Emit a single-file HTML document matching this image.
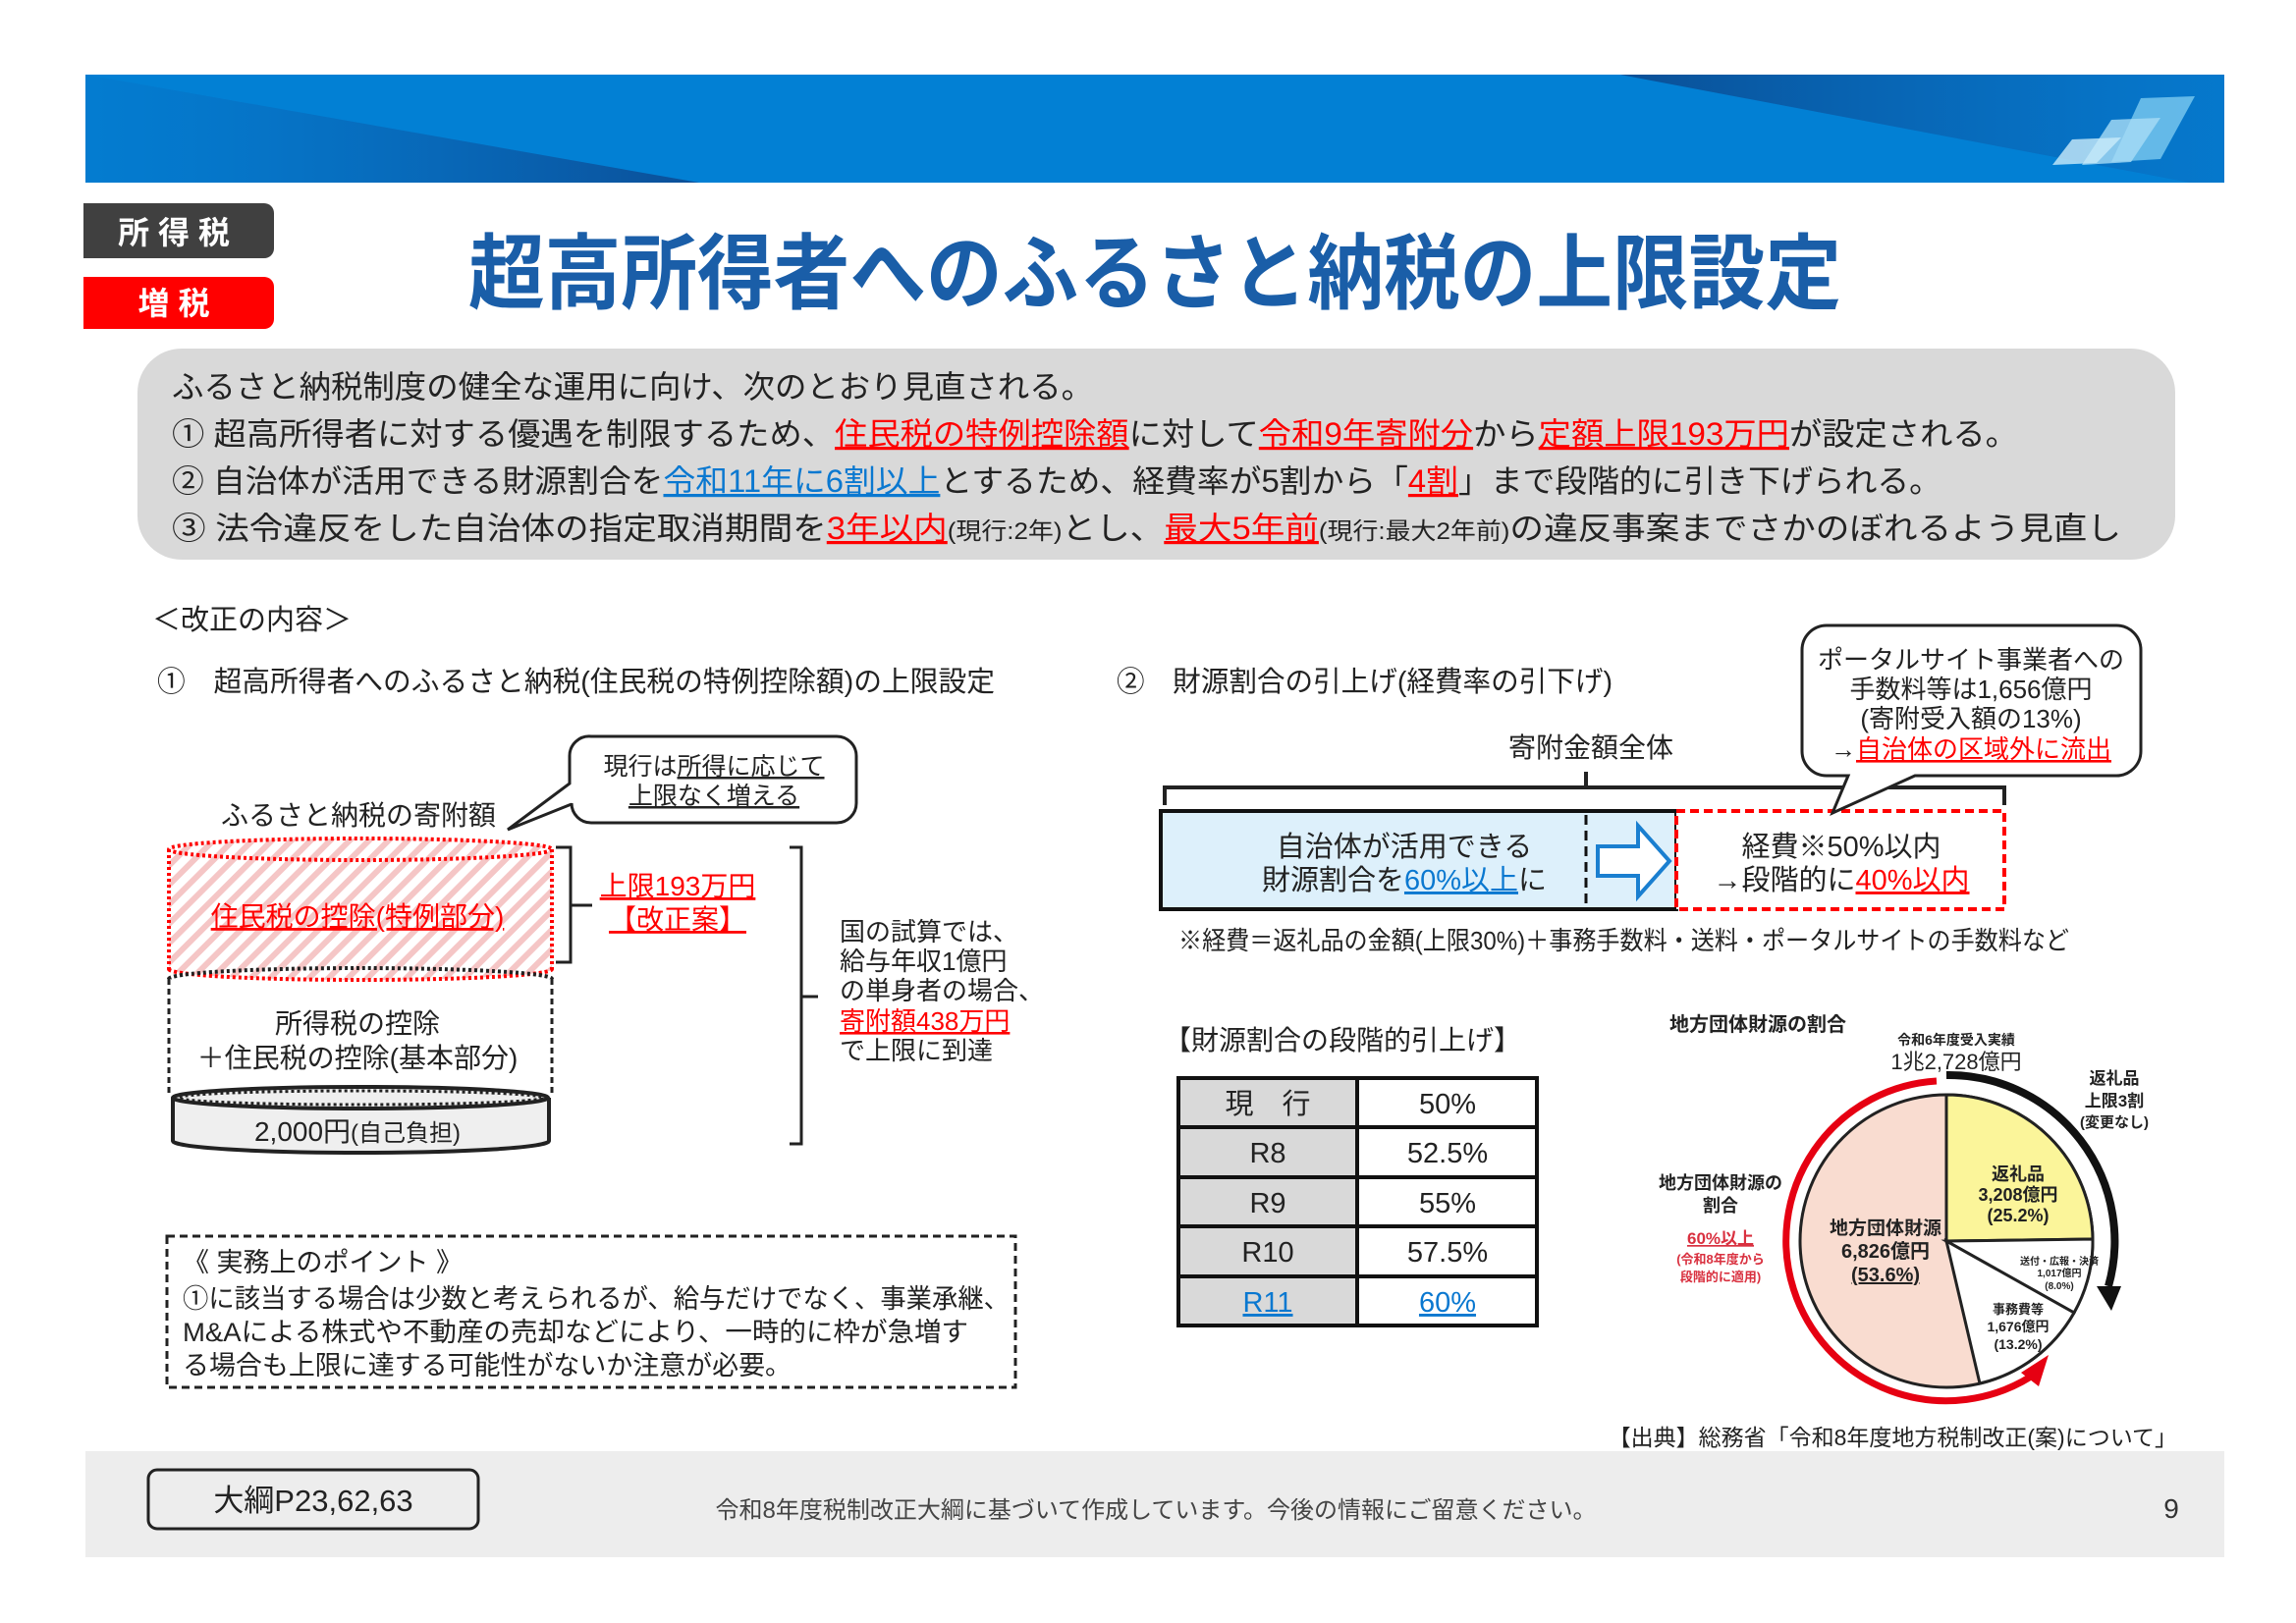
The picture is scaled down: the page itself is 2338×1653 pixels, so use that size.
<!DOCTYPE html>
<html><head><meta charset="utf-8"><style>
html,body{margin:0;padding:0;background:#fff;}
svg{display:block;}
text{font-family:"Liberation Sans","Noto Sans CJK JP",sans-serif;}
</style></head><body>
<svg width="2338" height="1653" viewBox="0 0 2338 1653" xmlns="http://www.w3.org/2000/svg">
<defs>
<linearGradient id="dl" x1="0" y1="0" x2="1" y2="0"><stop offset="0" stop-color="#0a6cc0" stop-opacity="0.2"/><stop offset="1" stop-color="#0b4f98"/></linearGradient>
<linearGradient id="dr" x1="0" y1="0" x2="1" y2="0"><stop offset="0" stop-color="#0a4f96"/><stop offset="1" stop-color="#0a6cc0" stop-opacity="0.4"/></linearGradient>
<pattern id="hatch" width="14" height="14" patternUnits="userSpaceOnUse" patternTransform="rotate(45)"><rect width="14" height="14" fill="#fff"/><rect width="6" height="14" fill="#f5c6c6"/></pattern>
</defs>
<!-- banner -->
<rect x="87" y="76" width="2178" height="110" fill="#0280d4"/>
<polygon points="87,76 712,186 87,186" fill="url(#dl)"/>
<polygon points="1650,76 2265,76 2265,186 2230,186" fill="url(#dr)"/>
<polygon points="2180,100 2235,98 2200,162 2150,165" fill="#7ccaf0" opacity="0.8"/>
<polygon points="2150,122 2200,120 2170,165 2120,168" fill="#a8dcf5" opacity="0.8"/>
<polygon points="2110,142 2160,140 2135,166 2090,168" fill="#c9ebfa" opacity="0.8"/>
<!-- tags -->
<path d="M85,207 H269 a10,10 0 0 1 10,10 V253 a10,10 0 0 1 -10,10 H85 Z" fill="#404040"/>
<text x="177" y="248" font-size="32" fill="#fff" text-anchor="middle" font-weight="bold">所 得 税</text>
<path d="M85,282 H269 a10,10 0 0 1 10,10 V325 a10,10 0 0 1 -10,10 H85 Z" fill="#ff0000"/>
<text x="177" y="320" font-size="32" fill="#fff" text-anchor="middle" font-weight="bold">増 税</text>
<!-- title -->
<text x="477" y="308" font-size="84" fill="#1a5ea8" font-weight="bold" textLength="1398" lengthAdjust="spacingAndGlyphs">超高所得者へのふるさと納税の上限設定</text>
<!-- gray box -->
<rect x="140" y="355" width="2075" height="215" rx="45" fill="#d9d9d9"/>
<g font-size="32" fill="#222">
<text x="175" y="405" textLength="938" lengthAdjust="spacingAndGlyphs">ふるさと納税制度の健全な運用に向け、次のとおり見直される。</text>
<text x="175" y="453" textLength="1880" lengthAdjust="spacingAndGlyphs">① 超高所得者に対する優遇を制限するため、<tspan fill="#f00" text-decoration="underline">住民税の特例控除額</tspan>に対して<tspan fill="#f00" text-decoration="underline">令和9年寄附分</tspan>から<tspan fill="#f00" text-decoration="underline">定額上限193万円</tspan>が設定される。</text>
<text x="175" y="501" textLength="1802" lengthAdjust="spacingAndGlyphs">② 自治体が活用できる財源割合を<tspan fill="#0a78d0" text-decoration="underline">令和11年に6割以上</tspan>とするため、経費率が5割から「<tspan fill="#f00" text-decoration="underline">4割</tspan>」まで段階的に引き下げられる。</text>
<text x="175" y="549" textLength="1985" lengthAdjust="spacingAndGlyphs">③ 法令違反をした自治体の指定取消期間を<tspan fill="#f00" text-decoration="underline">3年以内</tspan><tspan font-size="24">(現行:2年)</tspan>とし、<tspan fill="#f00" text-decoration="underline">最大5年前</tspan><tspan font-size="24">(現行:最大2年前)</tspan>の違反事案までさかのぼれるよう見直し</text>
</g>
<!-- section headers -->
<g font-size="29" fill="#222">
<text x="155" y="641">＜改正の内容＞</text>
<text x="160" y="704" textLength="853" lengthAdjust="spacingAndGlyphs">①　超高所得者へのふるさと納税(住民税の特例控除額)の上限設定</text>
<text x="1137" y="704" textLength="505" lengthAdjust="spacingAndGlyphs">②　財源割合の引上げ(経費率の引下げ)</text>
</g>
<!-- left diagram -->
<path d="M602,750 H852 a20,20 0 0 1 20,20 V818 a20,20 0 0 1 -20,20 H602 a20,20 0 0 1 -20,-20 V819 L517,845 L580,798 V770 a20,20 0 0 1 22,-20 Z" fill="#fff" stroke="#222" stroke-width="3"/>
<g font-size="25" fill="#222" text-anchor="middle">
<text x="727" y="789">現行は<tspan text-decoration="underline">所得に応じて</tspan></text>
<text x="727" y="819" text-decoration="underline">上限なく増える</text>
</g>
<text x="365" y="840" font-size="28" fill="#222" text-anchor="middle">ふるさと納税の寄附額</text>
<!-- cylinder -->
<rect x="172" y="865" width="390" height="122" fill="url(#hatch)"/>
<ellipse cx="367" cy="987" rx="195" ry="11" fill="url(#hatch)"/>
<ellipse cx="367" cy="865" rx="195" ry="11" fill="url(#hatch)" stroke="#f00" stroke-width="4" stroke-dasharray="3,3"/>
<path d="M172,865 V987 M562,865 V987" stroke="#f00" stroke-width="4" stroke-dasharray="3,3"/>
<path d="M172,987 a195,11 0 0 0 390,0" fill="none" stroke="#f00" stroke-width="4" stroke-dasharray="3,3"/>
<path d="M172,997 a195,11 0 0 1 390,0" fill="none" stroke="#222" stroke-width="4" stroke-dasharray="3,3"/>
<path d="M172,997 V1116 M562,997 V1116" stroke="#222" stroke-width="3" stroke-dasharray="6,4"/>
<path d="M176,1118 V1162 a191,12 0 0 0 383,0 V1118" fill="#efefef" stroke="#222" stroke-width="4"/>
<ellipse cx="367" cy="1118" rx="191" ry="11" fill="#efefef" stroke="#222" stroke-width="4"/>
<ellipse cx="367" cy="1118" rx="185" ry="7" fill="none" stroke="#222" stroke-width="3" stroke-dasharray="3,3"/>
<g font-size="28" text-anchor="middle">
<text x="364" y="943" fill="#f00" text-decoration="underline">住民税の控除(特例部分)</text>
<text x="364" y="1052" fill="#222">所得税の控除</text>
<text x="364" y="1087" fill="#222">＋住民税の控除(基本部分)</text>
<text x="364" y="1162" fill="#222">2,000円<tspan font-size="24">(自己負担)</tspan></text>
<text x="690" y="912" fill="#f00" text-decoration="underline">上限193万円</text>
<text x="690" y="946" fill="#f00" text-decoration="underline">【改正案】</text>
</g>
<path d="M566,863 H581 V980 H566 M581,922 H603" fill="none" stroke="#222" stroke-width="3"/>
<path d="M804,863 H816 V1165 H804 M816,1015 H833" fill="none" stroke="#222" stroke-width="3"/>
<g font-size="26" fill="#222">
<text x="855" y="958">国の試算では、</text>
<text x="855" y="988">給与年収1億円</text>
<text x="855" y="1018">の単身者の場合、</text>
<text x="855" y="1049" fill="#f00" text-decoration="underline">寄附額438万円</text>
<text x="855" y="1079">で上限に到達</text>
</g>
<!-- practical box -->
<rect x="170" y="1259" width="864" height="154" fill="none" stroke="#222" stroke-width="3" stroke-dasharray="8,5"/>
<g font-size="27" fill="#222">
<text x="186" y="1295">《 実務上のポイント 》</text>
<text x="186" y="1332" textLength="842" lengthAdjust="spacingAndGlyphs">①に該当する場合は少数と考えられるが、給与だけでなく、事業承継、</text>
<text x="186" y="1366" textLength="800" lengthAdjust="spacingAndGlyphs">M&amp;Aによる株式や不動産の売却などにより、一時的に枠が急増す</text>
<text x="186" y="1400" textLength="620" lengthAdjust="spacingAndGlyphs">る場合も上限に達する可能性がないか注意が必要。</text>
</g>
<!-- right top diagram -->
<text x="1620" y="771" font-size="28" fill="#222" text-anchor="middle">寄附金額全体</text>
<path d="M1186,820 V802 H2041 V820 M1615,786 V802" fill="none" stroke="#222" stroke-width="4"/>
<rect x="1182" y="826" width="525" height="100" fill="#ddf0fb" stroke="#111" stroke-width="4"/>
<line x1="1615" y1="830" x2="1615" y2="922" stroke="#111" stroke-width="3" stroke-dasharray="10,6"/>
<path d="M1627,862 H1668 V841 L1700,877 L1668,913 V892 H1627 Z" fill="#fff" stroke="#1a7fd0" stroke-width="4"/>
<rect x="1707" y="826" width="334" height="100" fill="#fff" stroke="#f00" stroke-width="4" stroke-dasharray="9,5"/>
<g font-size="29" fill="#222" text-anchor="middle">
<text x="1430" y="872">自治体が活用できる</text>
<text x="1430" y="906">財源割合を<tspan fill="#0a78d0" text-decoration="underline">60%以上</tspan>に</text>
<text x="1875" y="872">経費※50%以内</text>
<text x="1875" y="906">→段階的に<tspan fill="#f00" text-decoration="underline">40%以内</tspan></text>
</g>
<path d="M1860,637 H2155 a25,25 0 0 1 25,25 V765 a25,25 0 0 1 -25,25 H1950 L1866,828 L1882,790 H1860 a25,25 0 0 1 -25,-25 V662 a25,25 0 0 1 25,-25 Z" fill="#fff" stroke="#222" stroke-width="3"/>
<g font-size="26" fill="#222" text-anchor="middle">
<text x="2007" y="681">ポータルサイト事業者への</text>
<text x="2007" y="711">手数料等は1,656億円</text>
<text x="2007" y="741">(寄附受入額の13%)</text>
<text x="2007" y="772">→<tspan fill="#f00" text-decoration="underline">自治体の区域外に流出</tspan></text>
</g>
<text x="1200" y="967" font-size="26" fill="#222" textLength="907" lengthAdjust="spacingAndGlyphs">※経費＝返礼品の金額(上限30%)＋事務手数料・送料・ポータルサイトの手数料など</text>
<!-- table -->
<text x="1185" y="1069" font-size="28" fill="#222">【財源割合の段階的引上げ】</text>
<rect x="1200" y="1098" width="182" height="252" fill="#d9d9d9"/>
<g stroke="#111" stroke-width="4" fill="none">
<rect x="1200" y="1098" width="365" height="252"/>
<line x1="1382" y1="1098" x2="1382" y2="1350"/>
<line x1="1200" y1="1148" x2="1565" y2="1148"/>
<line x1="1200" y1="1199" x2="1565" y2="1199"/>
<line x1="1200" y1="1249" x2="1565" y2="1249"/>
<line x1="1200" y1="1300" x2="1565" y2="1300"/>
</g>
<g font-size="29" fill="#222" text-anchor="middle">
<text x="1291" y="1134">現　行</text><text x="1474" y="1134">50%</text>
<text x="1291" y="1184">R8</text><text x="1474" y="1184">52.5%</text>
<text x="1291" y="1235">R9</text><text x="1474" y="1235">55%</text>
<text x="1291" y="1285">R10</text><text x="1474" y="1285">57.5%</text>
<text x="1291" y="1336" fill="#0a78d0" text-decoration="underline">R11</text><text x="1474" y="1336" fill="#0a78d0" text-decoration="underline">60%</text>
</g>
<!-- pie -->
<circle cx="1982" cy="1264" r="149" fill="#f9dcd0" stroke="#222" stroke-width="3"/>
<path d="M1982,1264 V1115 A149,149 0 0 1 2131,1262 Z" fill="#fbf59a" stroke="#222" stroke-width="3"/>
<path d="M1982,1264 L2131,1262 A149,149 0 0 1 2112,1337 Z" fill="#fff" stroke="#222" stroke-width="3"/>
<path d="M1982,1264 L2112,1337 A149,149 0 0 1 2016,1409 Z" fill="#fff" stroke="#222" stroke-width="3"/>
<path d="M1972,1101 A163,163 0 1 0 2068,1402" fill="none" stroke="#e60012" stroke-width="7"/>
<polygon points="2058,1398 2086,1380 2076,1412" fill="#e60012"/>
<path d="M1982,1095 A169,169 0 0 1 2147,1310" fill="none" stroke="#111" stroke-width="8"/>
<polygon points="2135,1310 2160,1310 2150,1335" fill="#111"/>
<g fill="#222" text-anchor="middle" font-weight="bold">
<text x="1790" y="1050" font-size="20">地方団体財源の割合</text>
<text x="1992" y="1064" font-size="14">令和6年度受入実績</text>
<text x="1992" y="1089" font-size="22" font-weight="normal">1兆2,728億円</text>
<text x="2153" y="1104" font-size="17">返礼品</text>
<text x="2153" y="1127" font-size="17">上限3割</text>
<text x="2153" y="1148" font-size="15">(変更なし)</text>
<text x="1752" y="1211" font-size="18">地方団体財源の</text>
<text x="1752" y="1234" font-size="18">割合</text>
<text x="1752" y="1267" font-size="17" fill="#d9303f" text-decoration="underline">60%以上</text>
<text x="1752" y="1287" font-size="13" fill="#d9303f">(令和8年度から</text>
<text x="1752" y="1305" font-size="13" fill="#d9303f">段階的に適用)</text>
<text x="2055" y="1202" font-size="18">返礼品</text>
<text x="2055" y="1223" font-size="18">3,208億円</text>
<text x="2055" y="1244" font-size="18">(25.2%)</text>
<text x="1920" y="1257" font-size="19">地方団体財源</text>
<text x="1920" y="1281" font-size="20">6,826億円</text>
<text x="1920" y="1305" font-size="20" text-decoration="underline">(53.6%)</text>
<text x="2097" y="1288" font-size="10">送付・広報・決済</text>
<text x="2097" y="1300" font-size="10">1,017億円</text>
<text x="2097" y="1313" font-size="10">(8.0%)</text>
<text x="2055" y="1338" font-size="13">事務費等</text>
<text x="2055" y="1356" font-size="14">1,676億円</text>
<text x="2055" y="1374" font-size="14">(13.2%)</text>
</g>
<text x="2217" y="1472" font-size="23" fill="#222" text-anchor="end">【出典】総務省「令和8年度地方税制改正(案)について」</text>
<!-- footer -->
<rect x="87" y="1478" width="2178" height="108" fill="#ededed"/>
<rect x="151" y="1497" width="336" height="60" rx="9" fill="#ededed" stroke="#222" stroke-width="3"/>
<text x="319" y="1539" font-size="31" fill="#222" text-anchor="middle">大綱P23,62,63</text>
<text x="1177" y="1546" font-size="24" fill="#444" text-anchor="middle">令和8年度税制改正大綱に基づいて作成しています。今後の情報にご留意ください。</text>
<text x="2211" y="1546" font-size="28" fill="#333" text-anchor="middle">9</text>
</svg>
</body></html>
